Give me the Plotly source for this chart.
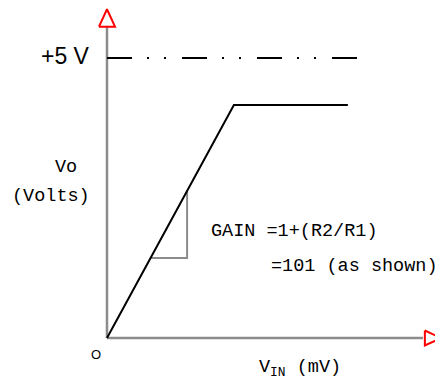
import plotly.graph_objects as go

# ---- data (Vin in mV, Vo in volts) ----
vin = [0, 41.2, 78.2]
vout = [0, 4.16, 4.16]
supply_vin = [0, 81.2]
supply_v = [5.0, 5.0]
gain_x = [14.3, 26.0, 26.0]
gain_y = [1.43, 1.43, 2.61]
yaxis_x = [0, 0]
yaxis_y = [0, 5.56]
xaxis_x = [0, 102.6]
xaxis_y = [0, 0]
arrow_up_x = [-2.6, 0, 2.6, -2.6]
arrow_up_y = [5.56, 5.87, 5.56, 5.56]
arrow_rt_x = [103.2, 108.4, 103.2, 103.2]
arrow_rt_y = [0.134, 0, -0.134, 0.134]

GRAY = "#8c8c8c"
RED = "#ff0000"
MONO = "Liberation Mono"
FS = 18.5

fig = go.Figure()
fig.add_trace(go.Scatter(x=yaxis_x, y=yaxis_y, mode="lines", line=dict(color=GRAY, width=2.5)))
fig.add_trace(go.Scatter(x=xaxis_x, y=xaxis_y, mode="lines", line=dict(color=GRAY, width=2.5)))
fig.add_trace(go.Scatter(x=arrow_up_x, y=arrow_up_y, mode="lines", fill="toself",
                         fillcolor="white", line=dict(color=RED, width=2)))
fig.add_trace(go.Scatter(x=arrow_rt_x, y=arrow_rt_y, mode="lines", fill="toself",
                         fillcolor="white", line=dict(color=RED, width=2)))
fig.add_trace(go.Scatter(x=supply_vin, y=supply_v, mode="lines",
                         line=dict(color="black", width=2.2, dash="25px,15px,2px,15px,2px,16px")))
fig.add_trace(go.Scatter(x=gain_x, y=gain_y, mode="lines", line=dict(color=GRAY, width=2)))
fig.add_trace(go.Scatter(x=vin, y=vout, mode="lines", line=dict(color="black", width=2)))

ann = [
    dict(x=-4.9, y=5.04, text="+5 V", xanchor="right", yanchor="middle",
         font=dict(family="Liberation Sans", size=23, color="black")),
    dict(x=-13.3, y=3.05, text="Vo", xanchor="center", yanchor="middle",
         font=dict(family=MONO, size=FS, color="black")),
    dict(x=-18.3, y=2.53, text="(Volts)", xanchor="center", yanchor="middle",
         font=dict(family=MONO, size=FS, color="black")),
    dict(x=-3.57, y=-0.29, text="O", xanchor="center", yanchor="middle",
         font=dict(family="Liberation Sans", size=13, color="black")),
    dict(x=33.1, y=1.90, text="GAIN =1+(R2/R1)", xanchor="left", yanchor="middle",
         font=dict(family=MONO, size=FS, color="black")),
    dict(x=52.6, y=1.28, text="=101 (as shown)", xanchor="left", yanchor="middle",
         font=dict(family=MONO, size=FS, color="black")),
    dict(x=48.7, y=-0.55, text="V<sub>IN</sub> (mV)", xanchor="left", yanchor="middle",
         font=dict(family=MONO, size=FS, color="black")),
]
for a in ann:
    a.update(showarrow=False, xref="x", yref="y")

# page has an 8px body margin: figure spans page px 8..443 and 8..384
fig.update_layout(
    width=435, height=376,
    margin=dict(l=0, r=0, t=0, b=0),
    paper_bgcolor="white", plot_bgcolor="white",
    showlegend=False,
    annotations=ann,
    xaxis=dict(range=[-32.14, 109.09], visible=False, fixedrange=True),
    yaxis=dict(range=[-0.821, 5.893], visible=False, fixedrange=True),
)
fig.write_html("out.html")
